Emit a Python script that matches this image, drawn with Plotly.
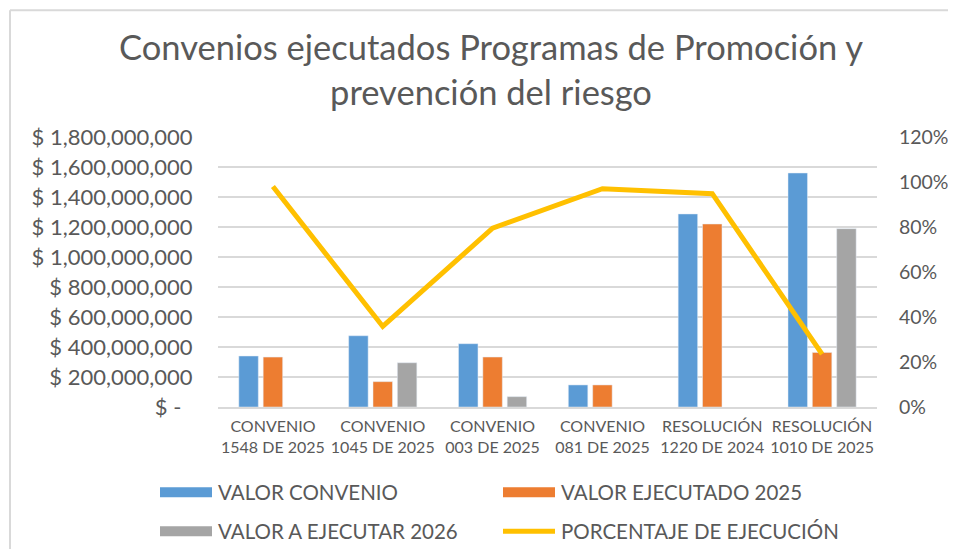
import plotly.graph_objects as go

# data
categories = ["CONVENIO<br>1548 DE 2025", "CONVENIO<br>1045 DE 2025", "CONVENIO<br>003 DE 2025",
              "CONVENIO<br>081 DE 2025", "RESOLUCIÓN<br>1220 DE 2024", "RESOLUCIÓN<br>1010 DE 2025"]
valor_convenio = [340e6, 475e6, 422e6, 147e6, 1287e6, 1560e6]
valor_ejecutado_2025 = [333e6, 169e6, 333e6, 147e6, 1220e6, 364e6]
valor_a_ejecutar_2026 = [None, 295e6, 69e6, None, None, 1189e6]
porcentaje_ejecucion = [0.98, 0.358, 0.795, 0.97, 0.948, 0.235]

y_ticks = [0, 2e8, 4e8, 6e8, 8e8, 10e8, 12e8, 14e8, 16e8, 18e8]
y_ticktext = ["$ -\u00a0\u00a0", "$ 200,000,000", "$ 400,000,000", "$ 600,000,000", "$ 800,000,000",
              "$ 1,000,000,000", "$ 1,200,000,000", "$ 1,400,000,000", "$ 1,600,000,000", "$ 1,800,000,000"]

legend_names = ["VALOR CONVENIO", "VALOR EJECUTADO 2025", "VALOR A EJECUTAR 2026", "PORCENTAJE DE EJECUCIÓN"]

BLUE = "#5B9BD5"
ORANGE = "#ED7D31"
GRAY = "#A5A5A5"
YELLOW = "#FFC000"
TEXT = "#595959"
GRID = "#D9D9D9"
FONT = "Lato"

# the page body has an 8px margin on every side; keep the figure inside it (no scrollbars)
OFF = 8
W, H = 956 - 2 * OFF, 557 - 2 * OFF
L, R, T, B = 218 - OFF, W - (877 - OFF), 137 - OFF, H - (407.5 - OFF)


# window pixel -> paper helpers for the frame and the legend
def px_x(px):
    return (px - OFF - L) / (W - L - R)


def px_y(py):
    return (H - B - (py - OFF)) / (H - T - B)


fig = go.Figure()
fig.add_trace(go.Bar(x=categories, y=valor_convenio, name=legend_names[0], marker_color=BLUE))
fig.add_trace(go.Bar(x=categories, y=valor_ejecutado_2025, name=legend_names[1], marker_color=ORANGE))
fig.add_trace(go.Bar(x=categories, y=valor_a_ejecutar_2026, name=legend_names[2], marker_color=GRAY))
fig.add_trace(go.Scatter(x=categories, y=porcentaje_ejecucion, name=legend_names[3], yaxis="y2",
                         mode="lines", line=dict(color=YELLOW, width=5)))

# frame of the chart area (only top and left edges visible)
shapes = [
    dict(type="line", xref="paper", yref="paper", x0=px_x(10), x1=px_x(980), y0=px_y(10), y1=px_y(10),
         line=dict(color=GRID, width=2)),
    dict(type="line", xref="paper", yref="paper", x0=px_x(10), x1=px_x(10), y0=px_y(580), y1=px_y(10),
         line=dict(color=GRID, width=2)),
]

# custom legend, Excel style
annotations = []
legend_items = [
    (legend_names[0], BLUE, 160, 493, "bar"),
    (legend_names[1], ORANGE, 503, 493, "bar"),
    (legend_names[2], GRAY, 160, 532, "bar"),
    (legend_names[3], YELLOW, 503, 532, "line"),
]
for name, color, x0, yc, kind in legend_items:
    if kind == "bar":
        shapes.append(dict(type="rect", xref="paper", yref="paper", x0=px_x(x0), x1=px_x(x0 + 52),
                           y0=px_y(yc + 5), y1=px_y(yc - 5), fillcolor=color, line=dict(width=0)))
    else:
        shapes.append(dict(type="line", xref="paper", yref="paper", x0=px_x(x0), x1=px_x(x0 + 52),
                           y0=px_y(yc), y1=px_y(yc), line=dict(color=color, width=5)))
    annotations.append(dict(text=name, xref="paper", yref="paper", x=px_x(x0 + 56), y=px_y(yc),
                            xanchor="left", yanchor="middle", showarrow=False,
                            font=dict(family=FONT, size=20.5, color=TEXT)))

fig.update_layout(
    width=W, height=H,
    margin=dict(l=L, r=R, t=T, b=B, autoexpand=False),
    paper_bgcolor="white", plot_bgcolor="white",
    title=dict(text="Convenios ejecutados Programas de Promoción y<br>prevención del riesgo",
               x=(491 - OFF) / W, xanchor="center", y=1 - (60 - OFF) / H, yanchor="middle",
               font=dict(family=FONT, size=34.5, color=TEXT)),
    font=dict(family=FONT, color=TEXT),
    barmode="group", bargap=0.335, bargroupgap=0.2,
    showlegend=False,
    shapes=shapes,
    annotations=annotations,
    xaxis=dict(showgrid=False, showline=True, linecolor=GRID, linewidth=1.5, automargin=False,
               ticks="outside", ticklen=4, tickcolor="rgba(0,0,0,0)",
               tickfont=dict(family=FONT, size=16, color=TEXT)),
    yaxis=dict(range=[0, 1.8e9], tickvals=y_ticks, ticktext=y_ticktext, automargin=False,
               showgrid=True, gridcolor=GRID, gridwidth=1.5, zeroline=False,
               ticks="outside", ticklen=20, tickcolor="rgba(0,0,0,0)",
               tickfont=dict(family=FONT, size=22, color=TEXT)),
    yaxis2=dict(range=[0, 1.2], dtick=0.2, tickformat=".0%", overlaying="y", side="right",
                showgrid=False, zeroline=False, automargin=False,
                ticks="outside", ticklen=17, tickcolor="rgba(0,0,0,0)",
                tickfont=dict(family=FONT, size=19.5, color=TEXT)),
)

fig.write_html("out.html")
